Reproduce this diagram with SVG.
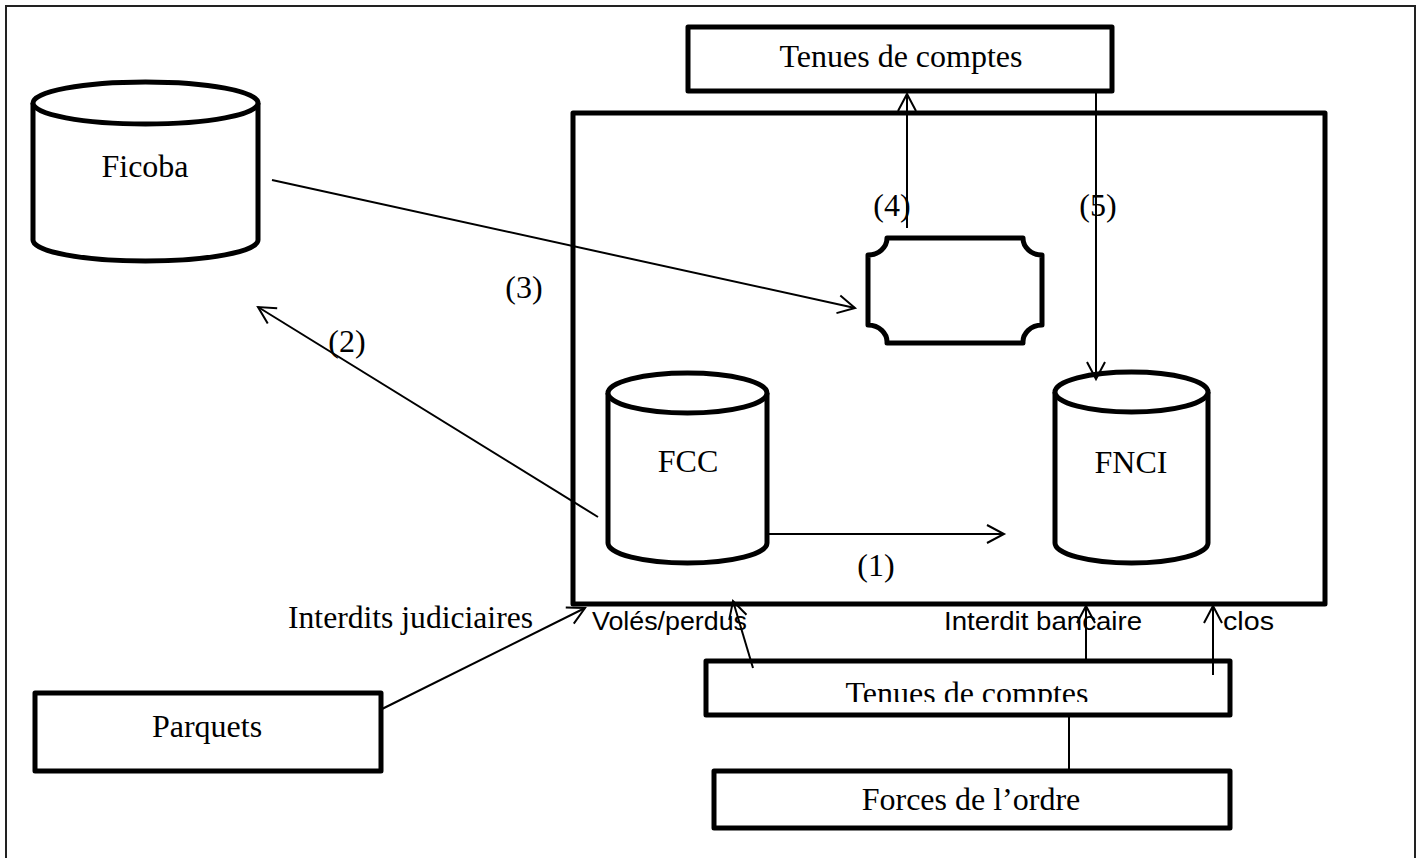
<svg xmlns="http://www.w3.org/2000/svg" width="1421" height="858" viewBox="0 0 1421 858">
<style>
.shape{fill:#fff;stroke:#000;stroke-width:5;stroke-linejoin:round}
.edge{fill:none;stroke:#000;stroke-width:2}
.serif{font-family:"Liberation Serif","Times New Roman",serif;font-size:32px;fill:#000}
.sans{font-family:"Liberation Sans",Arial,sans-serif;font-size:25px;fill:#000}
</style>
<defs>
<marker id="arr" markerUnits="userSpaceOnUse" markerWidth="24" markerHeight="24" viewBox="-20 -12 24 24" refX="0" refY="0" orient="auto">
<path d="M-17,-9 L0,0 L-17,9" fill="none" stroke="#000" stroke-width="2"/>
</marker>
<clipPath id="clipT"><rect x="700" y="650" width="540" height="52"/></clipPath>
</defs>
<rect width="1421" height="858" fill="#fff"/>
<path d="M6,858 V6 H1415 V858" fill="none" stroke="#222" stroke-width="2"/>

<g id="main-box"><rect class="shape" x="573" y="113" width="752" height="491"/></g>

<g id="tenues-top"><rect class="shape" x="688" y="27" width="424" height="64"/>
<text class="serif" x="901" y="67" text-anchor="middle">Tenues de comptes</text></g>

<g id="ficoba">
<path class="shape" d="M33,103 V240 A112.5,21 0 0 0 258,240 V103"/>
<ellipse class="shape" cx="145.5" cy="103" rx="112.5" ry="21"/>
<text class="serif" x="145" y="177" text-anchor="middle">Ficoba</text></g>

<g id="plaque"><path class="shape" d="M887,238 H1023 A19,17 0 0 0 1042,255 V325 A19,17 0 0 0 1023,343 H887 A19,17 0 0 0 868,325 V255 A19,17 0 0 0 887,238 Z"/></g>

<g id="fcc">
<path class="shape" d="M608,393 V543 A79.5,20 0 0 0 767,543 V393"/>
<ellipse class="shape" cx="687.5" cy="393" rx="79.5" ry="20"/>
<text class="serif" x="688" y="472" text-anchor="middle">FCC</text></g>

<g id="fnci">
<path class="shape" d="M1055,392 V543 A76.5,20 0 0 0 1208,543 V392"/>
<ellipse class="shape" cx="1131.5" cy="392" rx="76.5" ry="20"/>
<text class="serif" x="1131" y="473" text-anchor="middle">FNCI</text></g>

<g id="parquets"><rect class="shape" x="35" y="693" width="346" height="78"/>
<text class="serif" x="207" y="737" text-anchor="middle">Parquets</text></g>

<g id="tenues-bottom"><rect class="shape" x="706" y="661" width="524" height="54"/>
<text class="serif" x="967" y="704" text-anchor="middle" clip-path="url(#clipT)">Tenues de comptes</text></g>

<g id="forces"><rect class="shape" x="714" y="771" width="516" height="57"/>
<text class="serif" x="971" y="810" text-anchor="middle">Forces de l’ordre</text></g>

<g id="connectors">
<line class="edge" x1="272" y1="180" x2="855" y2="308" marker-end="url(#arr)"/>
<line class="edge" x1="598" y1="517" x2="258" y2="307" marker-end="url(#arr)"/>
<line class="edge" x1="907" y1="228" x2="907" y2="94" marker-end="url(#arr)"/>
<line class="edge" x1="1096" y1="92" x2="1096" y2="379" marker-end="url(#arr)"/>
<line class="edge" x1="769" y1="534" x2="1004" y2="534" marker-end="url(#arr)"/>
<line class="edge" x1="382" y1="709" x2="585" y2="608" marker-end="url(#arr)"/>
<line class="edge" x1="753" y1="668" x2="733" y2="601" marker-end="url(#arr)"/>
<line class="edge" x1="1086" y1="660" x2="1086" y2="606" marker-end="url(#arr)"/>
<line class="edge" x1="1213" y1="675" x2="1213" y2="606" marker-end="url(#arr)"/>
<line class="edge" x1="1069" y1="716" x2="1069" y2="771"/>
</g>

<g id="labels">
<text class="serif" x="524" y="298" text-anchor="middle">(3)</text>
<text class="serif" x="347" y="352" text-anchor="middle">(2)</text>
<text class="serif" x="892" y="216" text-anchor="middle">(4)</text>
<text class="serif" x="1098" y="216" text-anchor="middle">(5)</text>
<text class="serif" x="876" y="576" text-anchor="middle">(1)</text>
<text class="serif" x="288" y="628" textLength="245" lengthAdjust="spacingAndGlyphs">Interdits judiciaires</text>
<text class="sans" x="592" y="630" textLength="155" lengthAdjust="spacingAndGlyphs">Volés/perdus</text>
<text class="sans" x="944" y="630" textLength="198" lengthAdjust="spacingAndGlyphs">Interdit bancaire</text>
<text class="sans" x="1223" y="630" textLength="51" lengthAdjust="spacingAndGlyphs">clos</text>
</g>
</svg>
